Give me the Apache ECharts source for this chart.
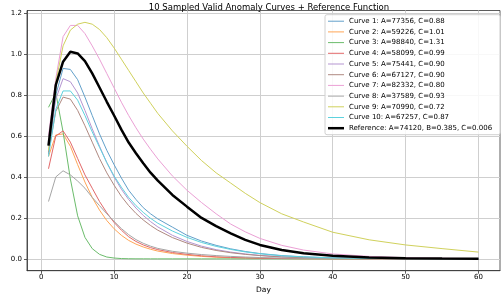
<!DOCTYPE html>
<html><head><meta charset="utf-8">
<script src="https://cdn.jsdelivr.net/npm/echarts@6/dist/echarts.min.js"></script>
<style>html,body{margin:0;padding:0;background:#fff}#c{width:502px;height:294px}</style>
</head><body><div id="c"></div>
<script>
var days = [1,2,3,4,5,6,7,8,9,10,11,12,13,14,15,16,18,20,22,24,26,28,30,33,36,40,45,50,55,60];
var xTicks = [0,10,20,30,40,50,60];
var yTicks = [0,0.2,0.4,0.6,0.8,1.0,1.2];
var curveNames = [
  'Curve 1: A=77356, C=0.88','Curve 2: A=59226, C=1.01','Curve 3: A=98840, C=1.31',
  'Curve 4: A=58099, C=0.99','Curve 5: A=75441, C=0.90','Curve 6: A=67127, C=0.90',
  'Curve 7: A=82332, C=0.80','Curve 8: A=37589, C=0.93','Curve 9: A=70990, C=0.72',
  'Curve 10: A=67257, C=0.87'];
var refName = 'Reference: A=74120, B=0.385, C=0.006';
var curve1 = [.51,.80,.93,.925,.875,.79,.70,.61,.53,.46,.395,.335,.29,.25,.22,.195,.155,.115,.087,.066,.049,.036,.026,.016,.01,.005,.0022,.001,.0004,.0002];
var curve2 = [.50,.605,.61,.55,.46,.375,.30,.238,.187,.147,.115,.09,.072,.058,.047,.038,.026,.018,.012,.008,.0055,.004,.0025,.0013,.0007,.0003,.0001,0,0,0];
var curve3 = [.74,.81,.62,.39,.21,.105,.05,.022,.009,.004,.0015,.0006,.0002,.0001,0,0,0,0,0,0,0,0,0,0,0,0,0,0,0,0];
var curve4 = [.44,.60,.625,.57,.49,.41,.345,.28,.225,.178,.14,.108,.085,.068,.055,.045,.031,.022,.015,.01,.007,.005,.003,.0017,.001,.0005,.0002,.0001,0,0];
var curve5 = [.55,.78,.88,.865,.81,.725,.635,.55,.47,.40,.34,.29,.248,.212,.182,.156,.115,.085,.062,.045,.033,.024,.017,.01,.006,.003,.0013,.0006,.0003,.0001];
var curve6 = [.52,.72,.79,.78,.725,.65,.57,.49,.42,.36,.305,.26,.222,.19,.163,.14,.104,.077,.056,.041,.03,.022,.016,.009,.0055,.0027,.0012,.0005,.0002,.0001];
var curve7 = [.60,.88,1.085,1.14,1.14,1.10,1.04,.975,.905,.835,.765,.70,.64,.585,.535,.488,.405,.335,.275,.22,.17,.132,.10,.066,.043,.024,.012,.006,.003,.0015];
var curve8 = [.28,.40,.43,.41,.38,.345,.30,.26,.22,.183,.148,.118,.094,.076,.062,.051,.037,.028,.021,.016,.012,.009,.0065,.004,.0025,.0013,.0006,.0003,.0001,0];
var curve9 = [.53,.86,1.04,1.117,1.146,1.155,1.146,1.12,1.08,1.03,.975,.92,.865,.81,.76,.71,.625,.55,.48,.42,.37,.32,.275,.22,.18,.13,.093,.068,.05,.033];
var curve10 = [.50,.73,.82,.82,.775,.70,.62,.545,.47,.405,.35,.30,.26,.227,.198,.174,.136,.105,.08,.061,.046,.034,.025,.015,.0095,.0048,.002,.0009,.0004,.0002];
var reference = [.553,.849,.963,1.011,1.003,.966,.906,.837,.767,.70,.631,.568,.516,.467,.421,.382,.312,.255,.20,.16,.125,.093,.068,.043,.027,.015,.007,.0035,.002,.001];

var curves = [curve1,curve2,curve3,curve4,curve5,curve6,curve7,curve8,curve9,curve10];
var colors = ['#62a0ca','#ffa556','#6bbc6b','#e26869','#b495d1','#af8981','#eba0d5','#a5a5a5','#d0d15c','#5dd2de'];
var thinIcon = 'path://M0,0M0,4h16v1h-16zM16,9';
var thickIcon = 'path://M0,0M0,3.25h16v2.5h-16zM16,9';
function pairs(vals){ return days.map(function(d,i){ return [d, vals[i]]; }); }
var series = curves.map(function(c,i){
  return {name: curveNames[i], type:'line', data: pairs(c), symbol:'none', showSymbol:false,
    lineStyle:{width:1, color:colors[i]}, itemStyle:{color:colors[i]}, z:2, animation:false};
});
series.push({name: refName, type:'line', data: pairs(reference), symbol:'none', showSymbol:false,
  lineStyle:{width:2.5, color:'#000'}, itemStyle:{color:'#000'}, z:5, animation:false});
var legendData = curveNames.map(function(n){ return {name:n, icon:thinIcon}; });
legendData.push({name:refName, icon:thickIcon});

var font = 'DejaVu Sans';
var chart = echarts.init(document.getElementById('c'), null, {renderer:'canvas'});
chart.setOption({
  animation:false,
  backgroundColor:'#fff',
  title:{text:'10 Sampled Valid Anomaly Curves + Reference Function', left:264, textAlign:'center', top:-2,
    textStyle:{fontFamily:font, fontSize:8.5, fontWeight:'normal', color:'#000'}},
  legend:{orient:'vertical', left:325, top:14.7, padding:[2,8,2,3], itemWidth:16, itemHeight:9, itemGap:1.7,
    backgroundColor:'rgba(255,255,255,0.85)', borderColor:'#d0d0d0', borderWidth:1, borderRadius:2,
    textStyle:{fontFamily:font, fontSize:7, color:'#000'},
    data: legendData},
  grid:{left:27, right:2, top:10.5, bottom:23.3, show:true, borderColor:'#333', borderWidth:0.8,
    containLabel:false, outerBoundsMode:'none'},
  xAxis:{type:'value', min:-1.95, max:62.95, name:'Day', nameLocation:'middle', nameGap:14,
    nameTextStyle:{fontFamily:font, fontSize:7.5, color:'#000'},
    axisLine:{show:true, onZero:false, lineStyle:{color:'#333', width:0.8}},
    axisTick:{show:true, customValues:xTicks, length:3, lineStyle:{color:'#333', width:0.8}},
    axisLabel:{customValues:xTicks, fontFamily:font, fontSize:7, color:'#000', margin:3},
    splitLine:{show:true, lineStyle:{color:'#cfcfcf', width:1}}},
  yAxis:{type:'value', min:-0.0578, max:1.2128, name:'Added Factor', nameLocation:'middle', nameGap:21,
    nameTextStyle:{fontFamily:font, fontSize:7.5, color:'#000'},
    axisLine:{show:true, onZero:false, lineStyle:{color:'#333', width:0.8}},
    axisTick:{show:true, customValues:yTicks, length:3, lineStyle:{color:'#333', width:0.8}},
    axisLabel:{customValues:yTicks, fontFamily:font, fontSize:7, color:'#000', margin:5,
      formatter:function(v){ return v.toFixed(1); }},
    splitLine:{show:true, lineStyle:{color:'#cfcfcf', width:1}}},
  series: series
});
</script></body></html>
